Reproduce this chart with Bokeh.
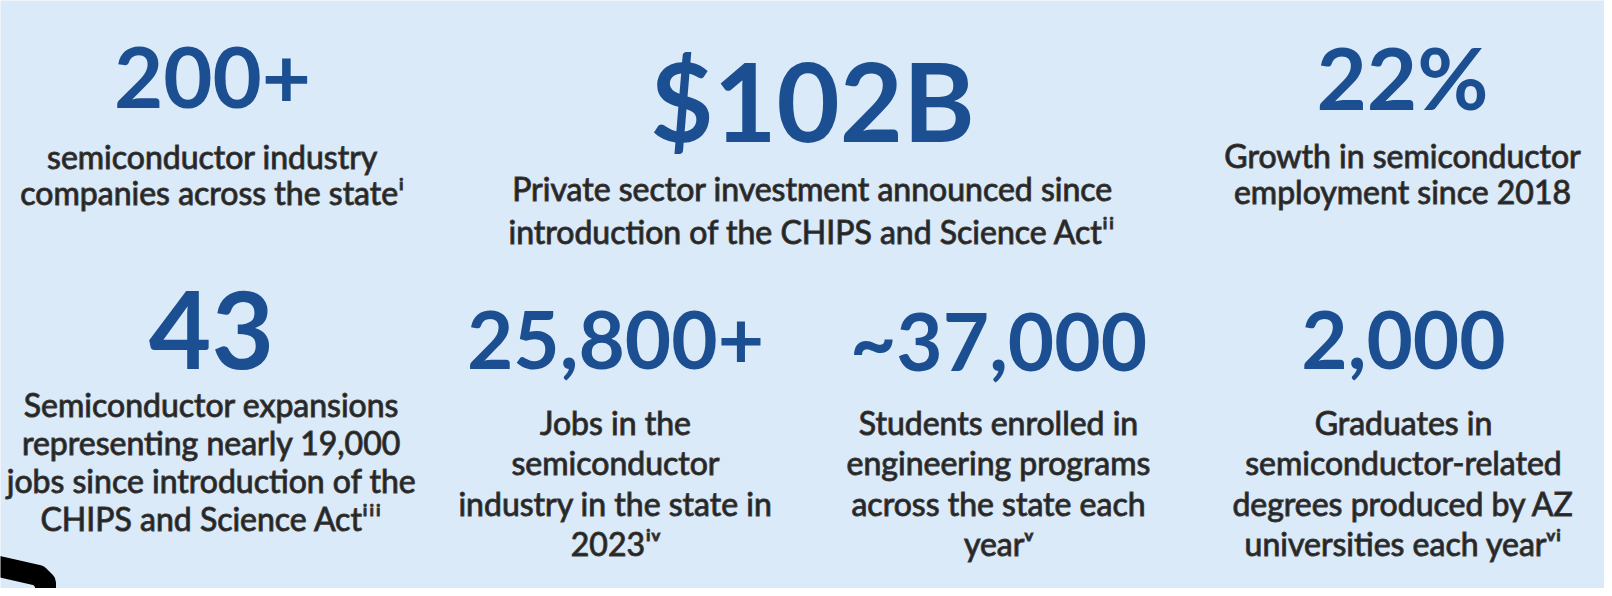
from bokeh.plotting import figure
from bokeh.models import Range1d, ColumnDataSource
from bokeh.embed import file_html
from bokeh.resources import INLINE
from bokeh.core.properties import value

# ---- data (text content of the infographic) ----
headlines = ["200+", "$102B", "22%", "43", "25,800+", "~37,000", "2,000"]
descriptions = [
    ["semiconductor industry", "companies across the state\u2071"],
    ["Private sector investment announced since",
     "introduction of the CHIPS and Science Act\u2071\u2071"],
    ["Growth in semiconductor", "employment since 2018"],
    ["Semiconductor expansions", "representing nearly 19,000",
     "jobs since introduction of the", "CHIPS and Science Act\u2071\u2071\u2071"],
    ["Jobs in the", "semiconductor", "industry in the state in", "2023\u2071\u1d5b"],
    ["Students enrolled in", "engineering programs", "across the state each", "year\u1d5b"],
    ["Graduates in", "semiconductor-related", "degrees produced by AZ",
     "universities each year\u1d5b\u2071"],
]

# ---- layout (pixel coordinates) ----
centers_x = [212, 812, 1402, 211, 615, 998, 1403]
headline_base = [106, 134, 106, 364, 367, 367, 367]
headline_size = [85, 109, 87, 108, 80, 80, 80]
desc_first = [168, 200, 167, 416, 434, 434, 434]
desc_step = [36, 43, 36, 38, 40.5, 40.5, 40.5]
BODY_SIZE = 32
SHIFT_HEAD = 0.25   # renderer baseline correction (fraction of font size)
SHIFT_BODY = 0.14

PANEL = "#dbeaf8"
BLUE = "#1b4f91"
DARK = "#222222"

p = figure(width=1604, height=588, output_backend="svg", toolbar_location=None,
           x_range=Range1d(0, 1604), y_range=Range1d(596, 8),
           min_border=0, background_fill_color=PANEL, border_fill_color=PANEL)
p.axis.visible = False
p.grid.visible = False
p.outline_line_color = None

for i, h in enumerate(headlines):
    sz = headline_size[i]
    src = ColumnDataSource(dict(x=[centers_x[i]], y=[headline_base[i] - SHIFT_HEAD * sz], t=[h]))
    p.text(x="x", y="y", text="t", source=src, text_align="center",
           text_baseline="alphabetic", text_color=BLUE,
           text_font=value("Lato"), text_font_style="bold",
           text_font_size=f"{sz}px")
    lines = descriptions[i]
    src2 = ColumnDataSource(dict(
        x=[centers_x[i]] * len(lines),
        y=[desc_first[i] + k * desc_step[i] - SHIFT_BODY * BODY_SIZE for k in range(len(lines))],
        t=lines))
    p.text(x="x", y="y", text="t", source=src2, text_align="center",
           text_baseline="alphabetic", text_color=DARK,
           text_outline_color="#3a3a3a",
           text_font=value("Lato"), text_font_size=f"{BODY_SIZE}px")

# decorative black stroke in the lower-left corner of the picture
p.line(x=[-10, 38, 45, 45], y=[572, 583, 590, 610], line_color="black",
       line_width=21, line_join="round")

open("out.html", "w").write(file_html(p, INLINE))
